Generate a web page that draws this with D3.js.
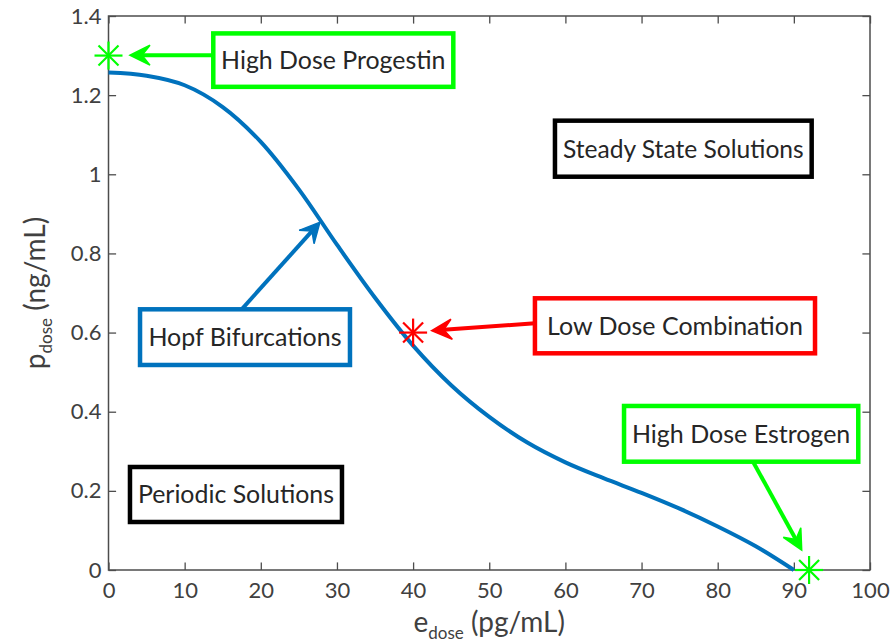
<!DOCTYPE html>
<html>
<head>
<meta charset="utf-8">
<script src="https://cdn.jsdelivr.net/npm/d3@7"></script>
<style>
  body { margin: 0; background: #fff; }
  svg text { font-family: Lato, "Open Sans", sans-serif; }
</style>
</head>
<body>
<div id="chart"></div>
<script>
// bifurcation curve (e_dose vs p_dose)
const eDose = [0, 5, 10, 15, 20, 25, 30, 35, 40, 45, 50, 55, 60, 65, 70, 75, 80, 85, 90];
const pDose = [1.257, 1.249, 1.225, 1.17, 1.082, 0.962, 0.822, 0.688, 0.567, 0.467, 0.387, 0.322, 0.272, 0.232, 0.195, 0.155, 0.11, 0.06, 0.0];

const xTicks = [0, 10, 20, 30, 40, 50, 60, 70, 80, 90, 100];
const yTicks = [0, 0.2, 0.4, 0.6, 0.8, 1, 1.2, 1.4];

// marked points
const starX = [0, 40, 92];
const starY = [1.3, 0.6, 0];
const starColor = ["#00ff00", "#ff0000", "#00ff00"];

// text boxes, in data units
const boxLabels = ["High Dose Progestin", "Steady State Solutions", "Hopf Bifurcations", "Low Dose Combination", "High Dose Estrogen", "Periodic Solutions"];
const boxX0 = [13.76, 58.63, 4.14, 56.0, 67.7, 2.82];
const boxX1 = [45.28, 92.34, 31.71, 92.78, 98.46, 30.66];
const boxY0 = [1.356, 1.1355, 0.6588, 0.6866, 0.4145, 0.2603];
const boxY1 = [1.221, 0.9939, 0.5181, 0.5476, 0.2737, 0.1213];
const boxColor = ["#00ff00", "#000000", "#0072bd", "#ff0000", "#00ff00", "#000000"];

// arrows: from -> to
const arrowFrom = [[13.7, 1.301], [17.49, 0.6588], [56.0, 0.6235], [84.64, 0.2737]];
const arrowTo = [[2.82, 1.301], [27.77, 0.879], [42.44, 0.6048], [91.03, 0.0505]];
const arrowColor = ["#00ff00", "#0072bd", "#ff0000", "#00ff00"];

const width = 892;
const height = 643;
const margin = {top: 16, left: 108.5, right: 22, bottom: 73};

const svg = d3.select("#chart")
  .append("svg")
  .attr("width", width)
  .attr("height", height);

const xScale = d3.scaleLinear()
  .domain([0, 100])
  .range([margin.left, width - margin.right]);

const yScale = d3.scaleLinear()
  .domain([0, 1.4])
  .range([height - margin.bottom, margin.top]);

const axisColor = "#4d4d4d";
const tickLen = 7.6;

/* axes, ticks inward on all four sides */
const xAxis = svg.append("g")
  .attr("transform", `translate(0,${height - margin.bottom})`)
  .call(d3.axisBottom(xScale).tickValues(xTicks).tickFormat(d3.format("d"))
    .tickSizeInner(-tickLen).tickSizeOuter(0).tickPadding(12));

const yAxis = svg.append("g")
  .attr("transform", `translate(${margin.left},0)`)
  .call(d3.axisLeft(yScale).tickValues(yTicks).tickFormat(d => d3.format("~g")(d))
    .tickSizeInner(-tickLen).tickSizeOuter(0).tickPadding(7));

const xTop = svg.append("g")
  .attr("transform", `translate(0,${margin.top})`)
  .call(d3.axisTop(xScale).tickValues(xTicks).tickFormat("")
    .tickSizeInner(-tickLen).tickSizeOuter(0));

const yRight = svg.append("g")
  .attr("transform", `translate(${width - margin.right},0)`)
  .call(d3.axisRight(yScale).tickValues(yTicks).tickFormat("")
    .tickSizeInner(-tickLen).tickSizeOuter(0));

[xAxis, yAxis, xTop, yRight].forEach(g => {
  g.select(".domain").remove();
  g.selectAll(".tick line").attr("stroke", axisColor).attr("stroke-width", 1.3);
  g.selectAll(".tick text")
    .attr("fill", "#404040")
    .style("font-size", "22px");
});

svg.append("rect")
  .attr("x", margin.left)
  .attr("y", margin.top)
  .attr("width", xScale(100) - xScale(0))
  .attr("height", yScale(0) - yScale(1.4))
  .attr("fill", "none")
  .attr("stroke", axisColor)
  .attr("stroke-width", 1.5);

/* curve */
const line = d3.line()
  .x((d, i) => xScale(eDose[i]))
  .y(d => yScale(d))
  .curve(d3.curveCatmullRom.alpha(0.5));

svg.append("path")
  .datum(pDose)
  .attr("d", line)
  .attr("fill", "none")
  .attr("stroke", "#0072bd")
  .attr("stroke-width", 4);

/* arrows */
function arrowPath(x0, y0, x1, y1) {
  const dx = x1 - x0, dy = y1 - y0;
  const len = Math.sqrt(dx * dx + dy * dy);
  const ux = dx / len, uy = dy / len;
  const px = -uy, py = ux;
  const hl = 20, hw = 10, notch = 8;
  const bx = x1 - ux * hl, by = y1 - uy * hl;
  const nx = x1 - ux * (hl - notch), ny = y1 - uy * (hl - notch);
  return `M${x1},${y1}L${bx + px * hw},${by + py * hw}L${nx},${ny}L${bx - px * hw},${by - py * hw}Z`;
}

arrowFrom.forEach((f, i) => {
  const x0 = xScale(f[0]), y0 = yScale(f[1]);
  const x1 = xScale(arrowTo[i][0]), y1 = yScale(arrowTo[i][1]);
  const dx = x1 - x0, dy = y1 - y0;
  const len = Math.sqrt(dx * dx + dy * dy);
  svg.append("line")
    .attr("x1", x0).attr("y1", y0)
    .attr("x2", x1 - dx / len * 12).attr("y2", y1 - dy / len * 12)
    .attr("stroke", arrowColor[i])
    .attr("stroke-width", 4);
  svg.append("path")
    .attr("d", arrowPath(x0, y0, x1, y1))
    .attr("fill", arrowColor[i])
    .attr("stroke", arrowColor[i])
    .attr("stroke-width", 1.5)
    .attr("stroke-linejoin", "miter");
});

/* star markers */
starX.forEach((sx, i) => {
  const cx = xScale(sx), cy = yScale(starY[i]);
  const r = 14, rd = 10;
  const g = svg.append("g").attr("stroke", starColor[i]).attr("stroke-width", 2.2);
  g.append("line").attr("x1", cx - r).attr("y1", cy).attr("x2", cx + r).attr("y2", cy);
  g.append("line").attr("x1", cx).attr("y1", cy - r).attr("x2", cx).attr("y2", cy + r);
  g.append("line").attr("x1", cx - rd).attr("y1", cy - rd).attr("x2", cx + rd).attr("y2", cy + rd);
  g.append("line").attr("x1", cx - rd).attr("y1", cy + rd).attr("x2", cx + rd).attr("y2", cy - rd);
});

/* text boxes */
boxLabels.forEach((t, i) => {
  const x0 = xScale(boxX0[i]), x1 = xScale(boxX1[i]);
  const y0 = yScale(boxY0[i]), y1 = yScale(boxY1[i]);
  svg.append("rect")
    .attr("x", x0).attr("y", y0)
    .attr("width", x1 - x0).attr("height", y1 - y0)
    .attr("fill", "#fff")
    .attr("stroke", boxColor[i])
    .attr("stroke-width", 4.5);
  const txt = svg.append("text")
    .attr("x", (x0 + x1) / 2)
    .attr("y", (y0 + y1) / 2)
    .attr("dy", "0.36em")
    .attr("text-anchor", "middle")
    .attr("fill", "#262626")
    .style("font-size", "25px")
    .text(t);
  // keep text inside its frame
  const avail = x1 - x0 - 16;
  const w = txt.node().getComputedTextLength();
  if (w > avail) txt.style("font-size", (25 * avail / w).toFixed(1) + "px");
});

/* axis labels */
const xl = svg.append("text")
  .attr("x", (xScale(0) + xScale(100)) / 2)
  .attr("y", 632)
  .attr("text-anchor", "middle")
  .attr("fill", "#404040")
  .style("font-size", "28px");
xl.append("tspan").text("e");
xl.append("tspan").attr("dy", 7).style("font-size", "17px").text("dose");
xl.append("tspan").attr("dy", -7).text(" (pg/mL)");

const yl = svg.append("text")
  .attr("transform", `translate(45,${(yScale(0) + yScale(1.4)) / 2}) rotate(-90)`)
  .attr("text-anchor", "middle")
  .attr("fill", "#404040")
  .style("font-size", "28px");
yl.append("tspan").text("p");
yl.append("tspan").attr("dy", 7).style("font-size", "17px").text("dose");
yl.append("tspan").attr("dy", -7).text(" (ng/mL)");
</script>
</body>
</html>
